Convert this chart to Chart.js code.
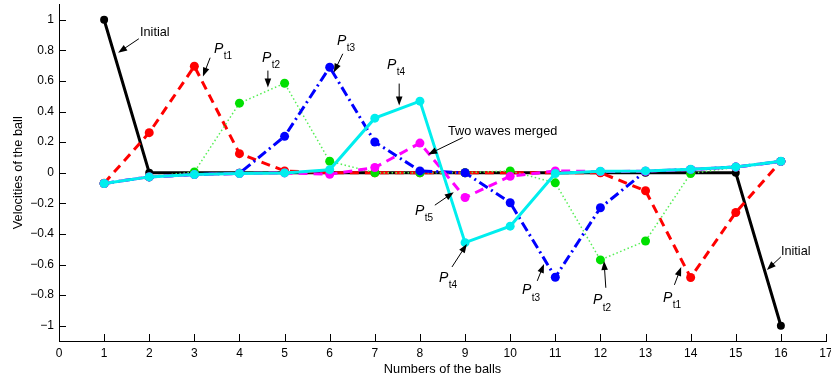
<!DOCTYPE html>
<html>
<head>
<meta charset="utf-8">
<script src="https://cdn.jsdelivr.net/npm/chart.js@4/dist/chart.umd.min.js"></script>
<style>
  html, body { margin: 0; padding: 0; background: #fff; }
  #wrap { width: 831px; height: 377px; }
</style>
</head>
<body>
<div id="wrap"><canvas id="c" width="831" height="377"></canvas></div>
<script>
// Ball indices along the chain
const balls = [1, 2, 3, 4, 5, 6, 7, 8, 9, 10, 11, 12, 13, 14, 15, 16];

// Velocity of every ball at successive instants
const initialV = [1, 0, 0, 0, 0, 0, 0, 0, 0, 0, 0, 0, 0, 0, 0, -1];
const pt1V = [-0.069, 0.262, 0.696, 0.125, 0.012, 0, 0, 0, 0, 0, 0, 0, -0.118, -0.685, -0.26, 0.074];
const pt2V = [-0.07, -0.027, 0.005, 0.455, 0.585, 0.075, 0, 0, 0, 0.012, -0.066, -0.57, -0.446, -0.005, 0.036, 0.074];
const pt3V = [-0.07, -0.027, -0.012, -0.003, 0.238, 0.69, 0.201, 0.012, 0, -0.196, -0.683, -0.229, 0.01, 0.022, 0.037, 0.074];
const pt5V = [-0.07, -0.027, -0.012, -0.005, -0.001, -0.01, 0.034, 0.194, -0.162, -0.023, 0.012, 0.008, 0.01, 0.022, 0.037, 0.074];
const pt4V = [-0.07, -0.027, -0.012, -0.005, -0.001, 0.02, 0.357, 0.468, -0.457, -0.349, -0.005, 0.01, 0.012, 0.023, 0.038, 0.075];

// Axis ticks
const xTickValues = [0, 1, 2, 3, 4, 5, 6, 7, 8, 9, 10, 11, 12, 13, 14, 15, 16, 17];
const yTickValues = [-1, -0.8, -0.6, -0.4, -0.2, 0, 0.2, 0.4, 0.6, 0.8, 1];

// Callouts: text anchor, arrow tail and arrow head, in data units
const notes = [
  { text: 'Initial', sub: '',   at: [1.795, 0.915],  from: [1.77, 0.876],   to: [1.31, 0.785] },
  { text: 'P',       sub: 't1', at: [3.435, 0.811],  from: [3.35, 0.752],   to: [3.19, 0.629] },
  { text: 'P',       sub: 't2', at: [4.499, 0.752],  from: [4.63, 0.668],   to: [4.63, 0.557] },
  { text: 'P',       sub: 't3', at: [6.161, 0.863],  from: [6.29, 0.778],   to: [6.09, 0.655] },
  { text: 'P',       sub: 't4', at: [7.27, 0.707],   from: [7.54, 0.583],   to: [7.54, 0.44] },
  { text: 'Two waves merged', sub: '', at: [8.621, 0.27], from: [8.95, 0.23], to: [8.18, 0.12] },
  { text: 'P',       sub: 't5', at: [7.89, -0.251],  from: [8.33, -0.212],  to: [8.75, -0.127] },
  { text: 'P',       sub: 't4', at: [8.422, -0.687], from: [8.71, -0.616],  to: [9.04, -0.466] },
  { text: 'P',       sub: 't3', at: [10.262, -0.769], from: [10.6, -0.707], to: [10.75, -0.596] },
  { text: 'P',       sub: 't2', at: [11.835, -0.834], from: [12.12, -0.752], to: [12.08, -0.577] },
  { text: 'P',       sub: 't1', at: [13.387, -0.818], from: [13.64, -0.733], to: [13.79, -0.616] },
  { text: 'Initial', sub: '',   at: [16.0, -0.518],  from: [16.0, -0.55],   to: [15.69, -0.635] }
];

const FONT = '"Liberation Sans", Arial, Helvetica, sans-serif';

function pts(values) {
  return balls.map((b, i) => ({ x: b, y: values[i] }));
}

function series(label, values, color, extra) {
  return Object.assign({
    label,
    data: pts(values),
    borderColor: color,
    backgroundColor: color,
    borderWidth: 3,
    pointRadius: 4.5,
    pointBorderWidth: 0,
    pointBackgroundColor: color,
    tension: 0,
    fill: false
  }, extra || {});
}

// Short tick marks pointing into the plot
const innerTicks = {
  id: 'innerTicks',
  afterDraw(chart) {
    const { ctx, chartArea: a, scales: { x, y } } = chart;
    ctx.save();
    ctx.strokeStyle = '#000';
    ctx.lineWidth = 1;
    ctx.beginPath();
    xTickValues.forEach(v => {
      const px = Math.round(x.getPixelForValue(v)) + 0.5;
      ctx.moveTo(px, a.bottom);
      ctx.lineTo(px, a.bottom - 7);
    });
    yTickValues.forEach(v => {
      const py = Math.round(y.getPixelForValue(v)) + 0.5;
      ctx.moveTo(a.left, py);
      ctx.lineTo(a.left + 7, py);
    });
    ctx.stroke();
    ctx.restore();
  }
};

function drawArrow(ctx, x0, y0, x1, y1) {
  const ang = Math.atan2(y1 - y0, x1 - x0);
  const c = Math.cos(ang), s = Math.sin(ang);
  const L = 9, W = 3.3;
  ctx.beginPath();
  ctx.moveTo(x0, y0);
  ctx.lineTo(x1 - L * 0.7 * c, y1 - L * 0.7 * s);
  ctx.stroke();
  ctx.beginPath();
  ctx.moveTo(x1, y1);
  ctx.lineTo(x1 - L * c + W * s, y1 - L * s - W * c);
  ctx.lineTo(x1 - L * c - W * s, y1 - L * s + W * c);
  ctx.closePath();
  ctx.fill();
}

// Labels with arrows
const callouts = {
  id: 'callouts',
  afterDatasetsDraw(chart) {
    const { ctx, scales: { x, y } } = chart;
    ctx.save();
    ctx.strokeStyle = '#000';
    ctx.fillStyle = '#000';
    ctx.lineWidth = 1;
    notes.forEach(n => {
      drawArrow(ctx,
        x.getPixelForValue(n.from[0]), y.getPixelForValue(n.from[1]),
        x.getPixelForValue(n.to[0]), y.getPixelForValue(n.to[1]));
      const tx = x.getPixelForValue(n.at[0]);
      const ty = y.getPixelForValue(n.at[1]);
      ctx.textAlign = 'left';
      ctx.textBaseline = 'middle';
      if (n.sub) {
        ctx.font = 'italic 14px ' + FONT;
        ctx.fillText(n.text, tx, ty);
        const w = ctx.measureText(n.text).width;
        ctx.font = '10px ' + FONT;
        ctx.fillText(n.sub, tx + w + 0.5, ty + 7.5);
      } else {
        ctx.font = '12.7px ' + FONT;
        ctx.fillText(n.text, tx, ty);
      }
    });
    ctx.restore();
  }
};

new Chart(document.getElementById('c'), {
  type: 'line',
  data: {
    datasets: [
      series('Pt4', pt4V, '#00eeee', { order: 0 }),
      series('Pt5', pt5V, '#ff00ff', { order: 1, borderDash: [9, 6] }),
      series('Pt3', pt3V, '#0000ff', { order: 2, borderDash: [10, 4, 2, 4] }),
      series('Pt2', pt2V, '#00e000', { order: 3, borderColor: '#55ee55', borderWidth: 1.5, borderDash: [1.5, 2.5] }),
      series('Pt1', pt1V, '#ff0000', { order: 4, borderDash: [9, 6] }),
      series('Initial', initialV, '#000000', { order: 5, pointRadius: 4 })
    ]
  },
  options: {
    responsive: false,
    devicePixelRatio: 1,
    animation: false,
    events: [],
    layout: { padding: { top: 3, right: 5, left: 0, bottom: 0 } },
    plugins: { legend: { display: false }, tooltip: { enabled: false }, title: { display: false } },
    scales: {
      x: {
        type: 'linear',
        min: 0,
        max: 17,
        grid: { display: false, drawTicks: false },
        border: { display: true, color: '#000', width: 1 },
        afterBuildTicks: s => { s.ticks = xTickValues.map(v => ({ value: v })); },
        afterFit: s => { s.height = 36; s.paddingLeft = 0; s.paddingRight = 0; },
        ticks: {
          color: '#000',
          padding: 5,
          maxRotation: 0,
          autoSkip: false,
          font: { family: FONT, size: 12 },
          callback: v => String(v)
        },
        title: {
          display: true,
          text: 'Numbers of the balls',
          color: '#000',
          font: { family: FONT, size: 12.8 },
          padding: { top: 0, bottom: 0 }
        }
      },
      y: {
        type: 'linear',
        min: -1.1,
        max: 1.1,
        grid: { display: false, drawTicks: false },
        border: { display: true, color: '#000', width: 1 },
        afterBuildTicks: s => { s.ticks = yTickValues.map(v => ({ value: v })); },
        afterFit: s => { s.width = 59; s.paddingTop = 0; s.paddingBottom = 0; },
        ticks: {
          color: '#000',
          padding: 5,
          autoSkip: false,
          font: { family: FONT, size: 12 },
          callback: v => (v < 0 ? '\u2212' + String(Math.abs(v)) : String(v))
        },
        title: {
          display: true,
          text: 'Velocities of the ball',
          color: '#000',
          font: { family: FONT, size: 12.8 },
          padding: { top: 11, bottom: 0 }
        }
      }
    }
  },
  plugins: [innerTicks, callouts]
});
</script>
</body>
</html>
